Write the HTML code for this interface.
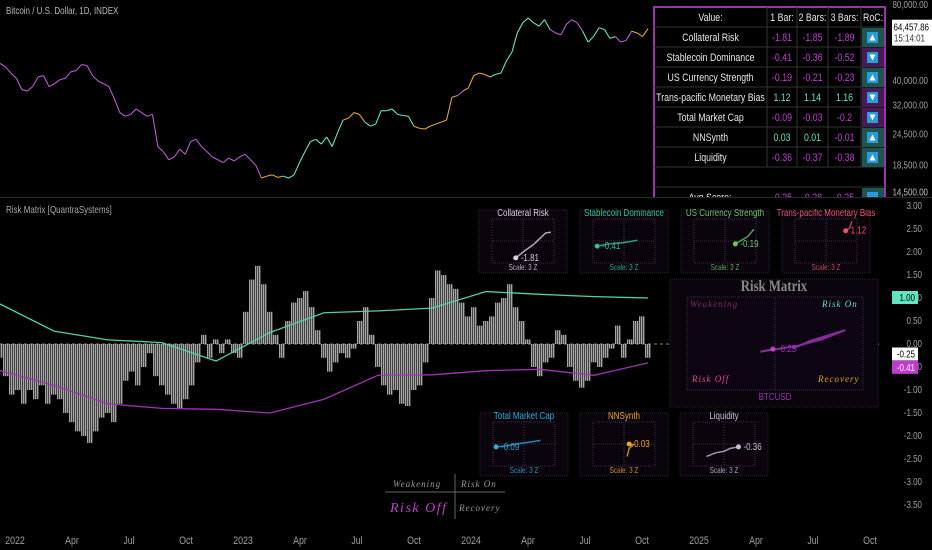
<!DOCTYPE html>
<html><head><meta charset="utf-8"><style>
html,body{margin:0;padding:0;background:#000;}
svg{display:block;font-family:"Liberation Sans",sans-serif;}
</style></head><body>
<svg id="c" width="932" height="550" viewBox="0 0 932 550" xmlns="http://www.w3.org/2000/svg">
<rect width="932" height="550" fill="#000"/>
<g id="price"></g>
<line x1="0" y1="197.5" x2="932" y2="197.5" stroke="#2a2a2a"/>
<g id="ind"></g>
<g id="axes"></g>
<g id="panels"></g>
<g id="table"></g>
</svg>
<script>
const NS="http://www.w3.org/2000/svg";
// ---- data ----
const priceValues=[47000,45500,43000,41000,37000,36500,38000,41500,42000,38000,39000,40500,41000,43500,44000,46500,46000,42000,40000,39000,38000,34000,30000,29000,29500,31000,30000,29000,29500,22000,21000,19500,20000,21500,20500,23000,23500,22000,21000,20000,19500,19000,19800,19300,20000,20500,19500,18500,16500,16800,17000,16600,16800,16500,17000,19000,21000,23000,23500,22500,24000,22000,25000,28000,28500,30000,29500,27500,26500,27000,30500,30500,31000,29500,29200,29000,26500,26000,25800,26500,27000,27500,28000,34500,35000,36500,37500,42000,43000,42500,41500,42500,43000,48000,52000,62000,68000,71000,68000,66000,70000,64000,62000,61000,67000,70000,68000,63000,57000,60000,65000,64000,59000,60000,57000,58000,63000,62000,60000,64500];
const priceRegime="pppppppppppppppppppppppppppppppppppppppppppppppppoooogggggggggggoooogggggggggoooooooopooooogggggggggggppppppggggggpppooogppoooggogg";
const histValues=[-0.3,-0.7,-1.1,-1.0,-1.3,-1.0,-1.2,-0.9,-1.3,-1.1,-1.2,-1.5,-1.7,-1.9,-2.0,-2.15,-1.9,-1.6,-1.5,-1.7,-1.3,-0.8,-0.6,-0.9,-0.5,-0.2,-0.7,-0.9,-1.1,-1.3,-1.4,-1.2,-0.9,-0.4,0.2,-0.3,0.1,-0.2,0.1,-0.2,-0.3,0.7,1.4,1.7,1.3,0.7,0.2,-0.3,0.5,0.9,1.0,1.15,0.8,0.3,-0.3,-0.6,-0.4,-0.2,-0.3,-0.1,0.5,0.8,0.2,-0.5,-0.9,-1.1,-1.0,-1.3,-1.35,-1.0,-0.9,-0.4,1.0,1.6,1.5,1.3,1.2,0.9,0.6,0.8,0.4,0.5,0.6,0.9,1.0,1.3,0.8,0.5,0.1,-0.5,-0.7,-0.4,-0.3,0.3,0.2,-0.5,-0.8,-0.95,-0.8,-0.4,-0.5,-0.3,-0.1,0.4,-0.3,0.1,0.5,0.6,-0.3];
const upperBand=[0.87,0.28,0.09,0.03,-0.37,0.25,0.68,0.72,0.78,1.14,1.08,1.03,1.0];
const lowerBand=[-0.58,-0.9,-1.3,-1.4,-1.42,-1.5,-1.2,-0.68,-0.67,-0.58,-0.55,-0.68,-0.41];
const priceTicks=[80000,40000,32000,24500,18500,14500];
const indTicks=[3,2.5,2,1.5,1,0.5,0,-0.5,-1,-1.5,-2,-2.5,-3,-3.5];
const timeLabels=["2022","Apr","Jul","Oct","2023","Apr","Jul","Oct","2024","Apr","Jul","Oct","2025","Apr","Jul","Oct"];
const tableNames=["Collateral Risk","Stablecoin Dominance","US Currency Strength","Trans-pacific Monetary Bias","Total Market Cap","NNSynth","Liquidity"];
const bar1=[-1.81,-0.41,-0.19,1.12,-0.09,0.03,-0.36];
const bar2=[-1.85,-0.36,-0.21,1.14,-0.03,0.01,-0.37];
const bar3=[-1.89,-0.52,-0.23,1.16,-0.2,-0.01,-0.38];
const rocUp=[1,0,1,0,0,1,1];
const trails=[
 [[-0.7,-2.3],[0.2,-1.3],[1.0,-0.5],[1.6,0.3],[2.2,1.1],[2.7,1.2]],
 [[-2.6,-0.7],[-1.5,-0.4],[-0.5,-0.3],[0.5,-0.1],[1.3,0.1]],
 [[1.0,-0.4],[1.6,0.1],[2.2,0.6],[2.8,1.6]],
 [[1.9,1.4],[2.3,1.8],[2.5,2.7]],
 [[-2.7,-0.4],[-1.5,-0.2],[-0.3,0.1],[0.8,0.3],[1.6,0.5]],
 [[0.5,0],[0.9,-0.1],[0.5,-0.6],[0.3,-1.7]],
 [[1.4,-0.4],[0.6,-0.6],[0,-1.0],[-0.8,-1.2],[-1.7,-1.7]]
];
const bigTrail=[[-0.07,-0.33],[-0.5,-0.5],[0.8,-0.1],[1.6,0.3],[2.4,0.9],[1.2,0.2],[0.6,-0.3]];
const bigValue=-0.25;

const SX=0.8;
function el(tag,attrs,parent,txt){
 const e=document.createElementNS(NS,tag);
 if(tag==="text" && !attrs.wide){
  const x=attrs.x||0,y=attrs.y||0;delete attrs.x;delete attrs.y;
  e.setAttribute("transform",`translate(${x},${y}) scale(${SX},1)`);
 }
 delete attrs.wide;
 for(const k in attrs)e.setAttribute(k,attrs[k]);
 if(txt!==undefined)e.textContent=txt;parent.appendChild(e);return e;}
const PX0=0,PX1=648;
const yPrice=v=>5+76*Math.log2(80000/v);
const yInd=v=>344-v*46;
const regCol={p:"#b55cd0",g:"#63e6bd",o:"#e3a531"};
const svg=document.getElementById("c");
const t1=el("text",{x:6,y:14,fill:"#b8b8b8","font-size":10},svg,"Bitcoin / U.S. Dollar, 1D, INDEX");

const t2=el("text",{x:6,y:213,fill:"#a8a8a8","font-size":10},svg,"Risk Matrix [QuantraSystems]");

// price
const gp=document.getElementById("price");
const pstep=(PX1-PX0)/(priceValues.length-1);
for(let i=1;i<priceValues.length;i++){
 const l=el("line",{x1:PX0+(i-1)*pstep,y1:yPrice(priceValues[i-1]),x2:PX0+i*pstep,y2:yPrice(priceValues[i]),stroke:regCol[priceRegime[i]]||"#b55cd0","stroke-width":1.1},gp);
 
 
}
// indicator
const gi=document.getElementById("ind");
const zl=el("line",{x1:0,y1:yInd(0),x2:880,y2:yInd(0),stroke:"#888","stroke-dasharray":"3,3","stroke-width":1},gi);

const hstep=(PX1-PX0)/(histValues.length-1);
histValues.forEach((v,i)=>{
 const x=PX0+i*hstep-hstep/2;const y0=yInd(0),y1=yInd(v);
 for(let k=0;k<3;k++){
  const r=el("rect",{x:x+k*hstep/3,y:Math.min(y0,y1),width:hstep/3-0.6,height:Math.abs(y1-y0),fill:"#a6a6a6"},gi);
  
  
 }
});
function band(arr,col,name){
 const st=(PX1-PX0)/(arr.length-1);
 const d=arr.map((v,i)=>(i?"L":"M")+(PX0+i*st)+","+yInd(v)).join(" ");
 const p=el("path",{d:d,fill:"none",stroke:col,"stroke-width":1.3},gi);
 
}
band(upperBand,"#4fd1a5","upper-band-line");
band(lowerBand,"#a233b8","lower-band-line");
// axes
const ga=document.getElementById("axes");
priceTicks.forEach(v=>{const t=el("text",{x:928,y:yPrice(v)+3,fill:"#a0a0a0","font-size":10,"text-anchor":"end"},ga,v.toLocaleString("en-US")+".00");});
indTicks.forEach(v=>{const t=el("text",{x:922,y:yInd(v)+3,fill:"#a0a0a0","font-size":10,"text-anchor":"end"},ga,v.toFixed(2));});
timeLabels.forEach((s,i)=>{const t=el("text",{x:15+i*57.0,y:544,fill:"#a0a0a0","font-size":11,"text-anchor":"middle"},ga,s);});
function tag(y,bg,fg,txt,name){const g=el("g",{},ga);el("rect",{x:892,y:y-7,width:26,height:13,fill:bg},g);el("text",{x:915,y:y+3,fill:fg,"font-size":10,"text-anchor":"end"},g,txt);}
const pg=el("g",{},ga);
el("rect",{x:892,y:yPrice(64457.86)-9,width:40,height:26,fill:"#fff"},pg);
el("text",{x:929,y:yPrice(64457.86)+2,fill:"#000","font-size":10,"text-anchor":"end"},pg,"64,457.86");
el("text",{x:925,y:yPrice(64457.86)+13,fill:"#333","font-size":10,"text-anchor":"end"},pg,"15:14:01");
// panels
const gq=document.getElementById("panels");
const panelCols=["#dcd0ea","#2fc58f","#6cc46a","#ea536c","#2aa9db","#f0a423","#cbbcdc"];
const panelPos=[[479,210],[580,210],[681,210],[782,210],[480,413],[580,413],[680,413]];
tableNames.forEach((n,i)=>{
 const [ox,oy]=panelPos[i];
 const g=el("g",{},gq);
 el("rect",{x:ox,y:oy,width:88,height:63,fill:"#0a050c",stroke:"#2c1f33","stroke-dasharray":"1,1"},g);
 el("text",{x:ox+44,y:oy+6,fill:panelCols[i],"font-size":10,"text-anchor":"middle"},g,n);
 const ix=ox+13,iy=oy+9,w=62,h=44,cx=ix+w/2,cy=iy+h/2;
 el("rect",{x:ix,y:iy,width:w,height:h,fill:"none",stroke:"#3a2a44","stroke-dasharray":"1,1"},g);
 el("line",{x1:cx,y1:iy,x2:cx,y2:iy+h,stroke:"#3a2a44","stroke-dasharray":"1,1"},g);
 el("line",{x1:ix,y1:cy,x2:ix+w,y2:cy,stroke:"#3a2a44","stroke-dasharray":"1,1"},g);
 const mx=v=>cx+v*(w/2)/3,my=v=>cy-v*(h/2)/3;
 const t=trails[i];
 const tr=el("polyline",{points:t.map(p=>mx(p[0])+","+my(p[1])).join(" "),fill:"none",stroke:panelCols[i],"stroke-width":1.5,opacity:0.8},g);
 
 const hd=el("circle",{cx:mx(t[0][0]),cy:my(t[0][1]),r:2.5,fill:panelCols[i]},g);
 
 el("text",{x:mx(t[0][0])+5,y:my(t[0][1])+3,fill:panelCols[i],"font-size":10},g,bar1[i].toFixed(2));
 el("text",{x:cx,y:oy+60,fill:panelCols[i],"font-size":8,"text-anchor":"middle",opacity:0.85},g,"Scale: 3 Z");
});
// big matrix
const gb=el("g",{},gq);
el("rect",{x:670,y:279,width:208,height:128,fill:"#0a050c",stroke:"#2c1f33","stroke-dasharray":"1,1"},gb);
el("text",{x:774,y:291,fill:"#8a8a8a","font-size":16,"font-weight":"bold","font-family":"Liberation Serif,serif","text-anchor":"middle"},gb,"Risk Matrix");
const bx=687,by=297,bw=176,bh=93,bcx=775,bcy=344;
el("rect",{x:bx,y:by,width:bw,height:bh,fill:"#0d0612",stroke:"#3a2a44","stroke-dasharray":"1,1"},gb);
el("line",{x1:bcx,y1:by,x2:bcx,y2:by+bh,stroke:"#3a2a44","stroke-dasharray":"1,1"},gb);
const it={"font-family":"Liberation Serif,serif","font-style":"italic","font-size":9,"letter-spacing":1,wide:1};
el("text",Object.assign({x:690,y:307,fill:"#7a2a6a"},it),gb,"Weakening");
el("text",Object.assign({x:822,y:307,fill:"#5ee6c2"},it),gb,"Risk On");
el("text",Object.assign({x:692,y:382,fill:"#e0508a"},it),gb,"Risk Off");
el("text",Object.assign({x:818,y:382,fill:"#e3a531"},it),gb,"Recovery");
el("text",{x:775,y:400,fill:"#9a30b0","font-size":10,"text-anchor":"middle"},gb,"BTCUSD");
const bmx=v=>bcx+v*(bw/2)/3,bmy=v=>bcy-v*(bh/2)/3;
const btr=el("polyline",{points:bigTrail.map(p=>bmx(p[0])+","+bmy(p[1])).join(" "),fill:"none",stroke:"#a030b8","stroke-width":2,opacity:0.85},gb);

el("circle",{cx:bmx(bigTrail[0][0]),cy:bmy(bigTrail[0][1]),r:2.5,fill:"#c040d0"},gb);
el("text",{x:bmx(bigTrail[0][0])+5,y:bmy(bigTrail[0][1])+3,fill:"#a030b8","font-size":10},gb,bigValue.toFixed(2));
// value tags drawn above panels
tag(yInd(upperBand[upperBand.length-1]),"#5ee6c2","#000",upperBand[upperBand.length-1].toFixed(2),"upper-band-tag");
tag(yInd(bigValue)-1,"#fff","#000",bigValue.toFixed(2),"value-tag");
tag(yInd(lowerBand[lowerBand.length-1])+5,"#c03ad0","#fff",lowerBand[lowerBand.length-1].toFixed(2),"lower-band-tag");
// bottom legend
const gl=el("g",{},gq);
el("line",{x1:455,y1:474,x2:455,y2:519,stroke:"#666"},gl);
el("line",{x1:385,y1:492,x2:505,y2:492,stroke:"#666"},gl);
el("text",Object.assign({},it,{x:393,y:487,fill:"#999"}),gl,"Weakening");
el("text",Object.assign({},it,{x:461,y:487,fill:"#999"}),gl,"Risk On");
el("text",{x:390,y:512,fill:"#c040d0","font-size":14,"font-family":"Liberation Serif,serif","font-style":"italic","letter-spacing":1.5,wide:1},gl,"Risk Off");
el("text",Object.assign({},it,{x:459,y:511,fill:"#999"}),gl,"Recovery");
// table
const gt=document.getElementById("table");
const TX=654,TY=7,RH=20,colX=[654,767,797,828,861,885];
el("rect",{x:TX,y:TY,width:231,height:200,fill:"#000",stroke:"#9a35a8","stroke-width":2},gt);
const hdr=["Value:","1 Bar:","2 Bars:","3 Bars:","RoC:"];
hdr.forEach((h,c)=>{const t=el("text",{x:(colX[c]+colX[c+1])/2,y:TY+14,fill:"#e8e8e8","font-size":11,"text-anchor":"middle"},gt,h);});
const vcol=v=>v>=0?"#5ee6c2":"#c040d0";
for(let r=0;r<=9;r++){el("line",{x1:TX,y1:TY+RH*(r+1),x2:885,y2:TY+RH*(r+1),stroke:"#333"},gt);}
for(let c=1;c<5;c++){el("line",{x1:colX[c],y1:TY,x2:colX[c],y2:TY+RH*8,stroke:"#333"},gt);}
tableNames.forEach((n,r)=>{
 const y=TY+RH*(r+1)+14;
 const g=el("g",{},gt);
 el("text",{x:(colX[0]+colX[1])/2,y:y,fill:"#e8e8e8","font-size":11,"text-anchor":"middle"},g,n);
 [bar1,bar2,bar3].forEach((a,c)=>el("text",{x:(colX[c+1]+colX[c+2])/2,y:y,fill:vcol(a[r]),"font-size":11,"text-anchor":"middle"},g,String(a[r])));
 el("rect",{x:862,y:TY+RH*(r+1)+1,width:22,height:RH-1,fill:rocUp[r]?"#1e5550":"#4a1a58"},g);
 el("rect",{x:867,y:TY+RH*(r+1)+5,width:11,height:11,fill:"#2a9bd8"},g);
 const ty=TY+RH*(r+1)+10.5;
 el("path",{d:rocUp[r]?`M869.5,${ty+3}L875.5,${ty+3}L872.5,${ty-3}Z`:`M869.5,${ty-3}L875.5,${ty-3}L872.5,${ty+3}Z`,fill:"#fff"},g);
});
el("rect",{x:862,y:TY+RH*9+1,width:22,height:RH-1,fill:"#1e5550"},gt);
el("rect",{x:867,y:TY+RH*9+5,width:11,height:11,fill:"#2a9bd8"},gt);
const av=el("text",{x:710,y:TY+RH*9+14,fill:"#e8e8e8","font-size":11,"text-anchor":"middle"},gt,"Avg Score:");

el("text",{x:782,y:TY+RH*9+14,fill:"#c040d0","font-size":11,"text-anchor":"middle"},gt,"-0.25");
el("text",{x:812,y:TY+RH*9+14,fill:"#c040d0","font-size":11,"text-anchor":"middle"},gt,"-0.28");
el("text",{x:844,y:TY+RH*9+14,fill:"#c040d0","font-size":11,"text-anchor":"middle"},gt,"-0.25");
const cover=el("rect",{x:640,y:197,width:250,height:12,fill:"#000"},gt);

el("line",{x1:640,y1:197.5,x2:932,y2:197.5,stroke:"#2a2a2a"},gt);
// re-draw price tick labels above table
priceTicks.slice(-1).forEach(v=>{const t=el("text",{x:928,y:yPrice(v)+3,fill:"#a0a0a0","font-size":10,"text-anchor":"end"},gt,v.toLocaleString("en-US")+".00");});
</script>
</body></html>
